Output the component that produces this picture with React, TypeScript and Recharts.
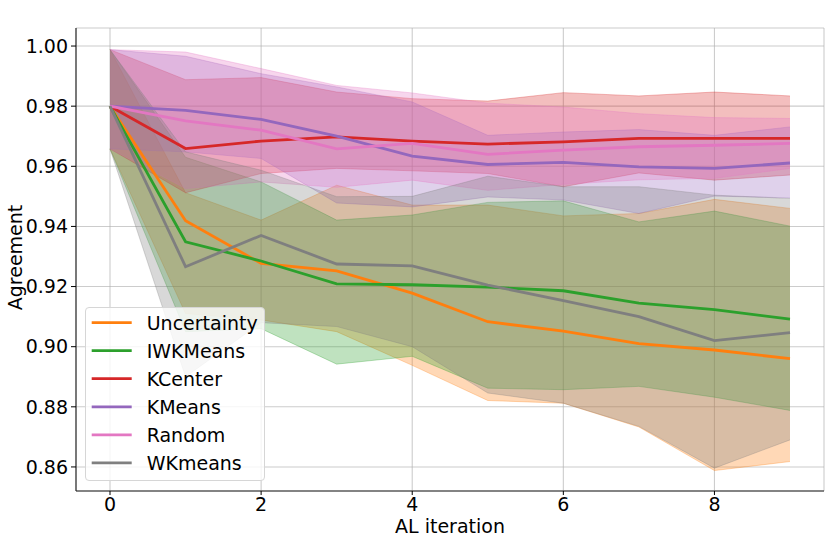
import React from 'react';
import {
  ComposedChart,
  Area,
  Line,
  XAxis,
  YAxis,
  CartesianGrid,
  Legend,
} from 'recharts';

const FONT = '"DejaVu Sans", Verdana, sans-serif';

const ITERATIONS = [0, 1, 2, 3, 4, 5, 6, 7, 8, 9];
const X_TICKS = [0, 2, 4, 6, 8];
const Y_TICKS = [0.86, 0.88, 0.9, 0.92, 0.94, 0.96, 0.98, 1.0];

// Uncertainty
const UNC_MEAN = [0.98, 0.9419, 0.9277, 0.9252, 0.9178, 0.9083, 0.9052, 0.901, 0.8989, 0.896];
const UNC_HI = [0.9988, 0.9512, 0.9421, 0.9537, 0.9471, 0.9471, 0.9435, 0.9443, 0.949, 0.946];
const UNC_LO = [0.9658, 0.911, 0.9089, 0.905, 0.8938, 0.8821, 0.8812, 0.8733, 0.8588, 0.8618];

// IWKMeans
const IWK_MEAN = [0.98, 0.9349, 0.9285, 0.9209, 0.9206, 0.9198, 0.9186, 0.9145, 0.9123, 0.9092];
const IWK_HI = [0.9988, 0.963, 0.9548, 0.9421, 0.9438, 0.948, 0.9485, 0.9415, 0.9451, 0.9401];
const IWK_LO = [0.9658, 0.905, 0.906, 0.8942, 0.8968, 0.8862, 0.8857, 0.8868, 0.8832, 0.8788];

// KCenter
const KC_MEAN = [0.98, 0.9659, 0.9684, 0.9698, 0.9684, 0.9674, 0.9681, 0.9693, 0.9693, 0.9693];
const KC_HI = [0.9988, 0.9888, 0.9895, 0.9847, 0.9825, 0.9817, 0.9845, 0.9834, 0.9847, 0.9834];
const KC_LO = [0.9658, 0.9512, 0.9576, 0.9593, 0.9585, 0.9576, 0.9532, 0.9578, 0.9554, 0.9571];

// KMeans
const KM_MEAN = [0.98, 0.9786, 0.9756, 0.97, 0.9634, 0.9606, 0.9613, 0.9598, 0.9593, 0.9611];
const KM_HI = [0.9988, 0.9966, 0.9908, 0.9864, 0.9814, 0.9703, 0.9714, 0.9722, 0.9703, 0.9731];
const KM_LO = [0.9658, 0.9648, 0.9626, 0.9478, 0.9465, 0.9498, 0.9488, 0.9443, 0.9501, 0.9495];

// Random
const RND_MEAN = [0.98, 0.9751, 0.972, 0.9658, 0.9676, 0.964, 0.9654, 0.9665, 0.967, 0.9676];
const RND_HI = [0.9988, 0.998, 0.9925, 0.9869, 0.9844, 0.981, 0.9797, 0.9775, 0.9762, 0.9759];
const RND_LO = [0.9658, 0.9526, 0.9548, 0.953, 0.9554, 0.952, 0.954, 0.9555, 0.956, 0.9593];

// WKmeans
const WK_MEAN = [0.98, 0.9266, 0.937, 0.9275, 0.9269, 0.9205, 0.9153, 0.91, 0.902, 0.9047];
const WK_HI = [0.9988, 0.9648, 0.9587, 0.9499, 0.95, 0.9567, 0.9532, 0.9532, 0.9504, 0.9493];
const WK_LO = [0.9658, 0.89, 0.908, 0.9067, 0.9, 0.8846, 0.8812, 0.8735, 0.8596, 0.869];

const SERIES = [
  { key: 'unc', name: 'Uncertainty', color: '#ff7f0e', mean: UNC_MEAN, lo: UNC_LO, hi: UNC_HI },
  { key: 'iwk', name: 'IWKMeans', color: '#2ca02c', mean: IWK_MEAN, lo: IWK_LO, hi: IWK_HI },
  { key: 'kc', name: 'KCenter', color: '#d62728', mean: KC_MEAN, lo: KC_LO, hi: KC_HI },
  { key: 'km', name: 'KMeans', color: '#9467bd', mean: KM_MEAN, lo: KM_LO, hi: KM_HI },
  { key: 'rnd', name: 'Random', color: '#e377c2', mean: RND_MEAN, lo: RND_LO, hi: RND_HI },
  { key: 'wk', name: 'WKmeans', color: '#7f7f7f', mean: WK_MEAN, lo: WK_LO, hi: WK_HI },
];

const rows = ITERATIONS.map((x, i) => {
  const r: any = { x };
  SERIES.forEach((s) => {
    r[s.key] = s.mean[i];
    r[s.key + 'Band'] = [s.lo[i], s.hi[i]];
  });
  return r;
});

const X_DOMAIN = [-0.45, 9.45];
const Y_DOMAIN = [0.852, 1.006];

const LegendBox = () => (
  <div
    style={{
      width: 180,
      height: 174,
      boxSizing: 'border-box',
      border: '1px solid #d6d6d6',
      borderRadius: 4,
      background: 'rgba(255,255,255,0.8)',
    }}
  >
    <svg width={178} height={172} style={{ display: 'block' }}>
      {SERIES.map((s, i) => {
        const cy = 14.6 + i * 28.06;
        return (
          <g key={s.key}>
            <line x1={5.7} x2={45.7} y1={cy} y2={cy} stroke={s.color} strokeWidth={2.8} />
            <text x={60.7} y={cy + 7} fontSize={19} fontFamily={FONT} fill="#000">
              {s.name}
            </text>
          </g>
        );
      })}
    </svg>
  </div>
);

export default function App() {
  return (
    <div style={{ position: 'absolute', left: 0, top: 0, width: 830, height: 543, background: '#fff' }}>
      <ComposedChart
        width={830}
        height={543}
        data={rows}
        margin={{ top: 28, right: 6, bottom: 0, left: 0 }}
        style={{ fontFamily: FONT }}
      >
        <XAxis
          dataKey="x"
          type="number"
          domain={X_DOMAIN}
          ticks={X_TICKS}
          allowDataOverflow
          height={52}
          tickSize={4}
          tickMargin={3}
          tick={{ fontSize: 19, fill: '#000', fontFamily: FONT }}
          tickLine={{ stroke: '#000', strokeWidth: 1 }}
          axisLine={{ stroke: '#222', strokeWidth: 1.1 }}
          label={() => (
            <text x={450} y={533} textAnchor="middle" fontSize={19} fontFamily={FONT} fill="#000">
              AL iteration
            </text>
          )}
        />
        <XAxis
          xAxisId="top"
          orientation="top"
          type="number"
          domain={X_DOMAIN}
          allowDataOverflow
          height={0}
          tick={false}
          tickLine={false}
          axisLine={{ stroke: '#222', strokeWidth: 1.1 }}
          label={() => (
            <text x={450} y={23} textAnchor="middle" fontSize={22.8} fontFamily={FONT} fill="#000">
              Agreement metric
            </text>
          )}
        />
        <YAxis
          type="number"
          domain={Y_DOMAIN}
          ticks={Y_TICKS}
          allowDataOverflow
          width={76}
          tickSize={5}
          tickMargin={3}
          tickFormatter={(v: number) => v.toFixed(2)}
          tick={{ fontSize: 19, fill: '#000', fontFamily: FONT }}
          tickLine={{ stroke: '#000', strokeWidth: 1 }}
          axisLine={{ stroke: '#222', strokeWidth: 1.1 }}
          label={() => (
            <text
              x={22.3}
              y={257.5}
              transform="rotate(-90, 22.3, 257.5)"
              textAnchor="middle"
              fontSize={19}
              fontFamily={FONT}
              fill="#000"
            >
              Agreement
            </text>
          )}
        />
        <YAxis
          yAxisId="right"
          orientation="right"
          type="number"
          domain={Y_DOMAIN}
          allowDataOverflow
          width={0}
          tick={false}
          tickLine={false}
          axisLine={{ stroke: '#222', strokeWidth: 1.1 }}
        />
        {SERIES.map((s) => (
          <Area
            key={s.key + 'Band'}
            type="linear"
            dataKey={s.key + 'Band'}
            stroke={s.color}
            strokeOpacity={0.3}
            strokeWidth={1}
            fill={s.color}
            fillOpacity={0.3}
            dot={false}
            activeDot={false}
            isAnimationActive={false}
            legendType="none"
          />
        ))}
        <CartesianGrid stroke="#b0b0b0" strokeOpacity={0.65} strokeWidth={1.1} />
        {SERIES.map((s) => (
          <Line
            key={s.key}
            type="linear"
            dataKey={s.key}
            name={s.name}
            stroke={s.color}
            strokeWidth={2.8}
            dot={false}
            activeDot={false}
            isAnimationActive={false}
          />
        ))}
        <Legend
          layout="horizontal"
          verticalAlign="middle"
          align="center"
          wrapperStyle={{ left: 85, top: 307, width: 180, height: 174 }}
          content={() => <LegendBox />}
        />
      </ComposedChart>
    </div>
  );
}
